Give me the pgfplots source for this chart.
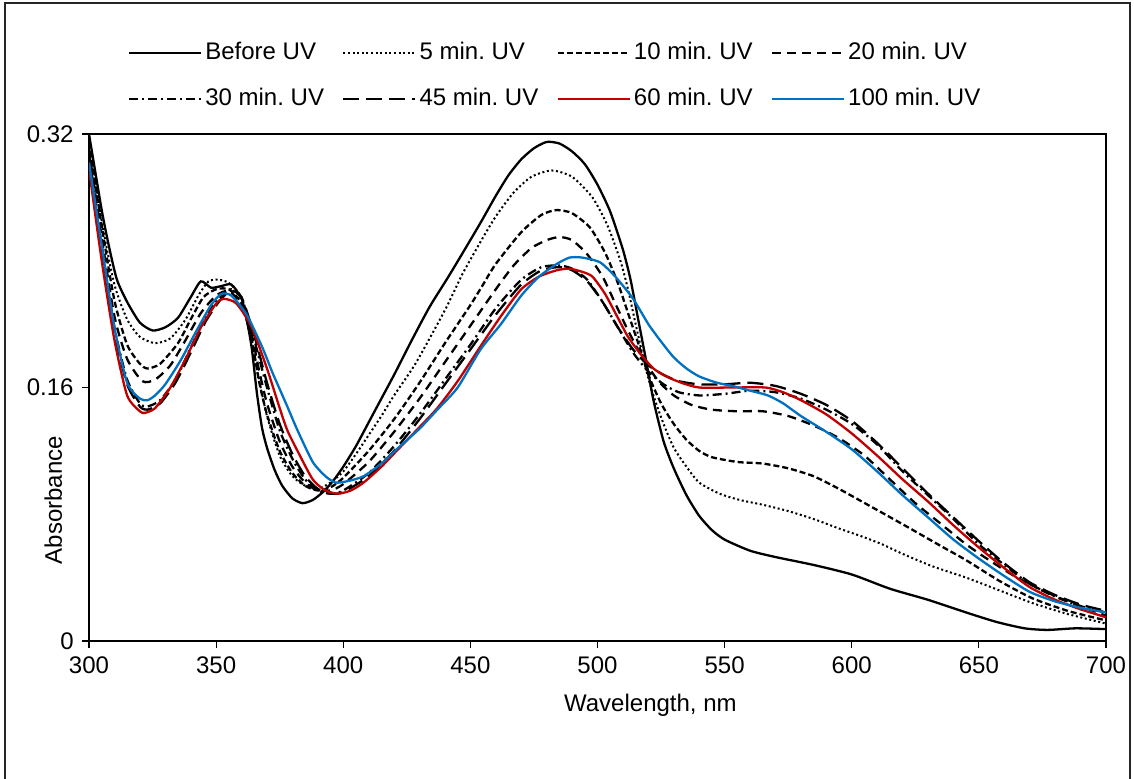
\documentclass[border=0pt,12pt]{standalone}
\usepackage{pgfplots}
\pgfplotsset{compat=1.18}
\usepackage{fontspec}
\setmainfont{Liberation Sans}
\definecolor{xred}{HTML}{C00000}
\definecolor{xblue}{HTML}{0070C0}
\begin{document}
\frenchspacing
\begin{tikzpicture}
\useasboundingbox (0,0) rectangle (567pt,389pt);
\begin{axis}[
  at={(44.5pt,68.5pt)}, anchor=south west,
  scale only axis, width=508.5pt, height=253.5pt,
  xmin=300, xmax=700, ymin=0, ymax=0.32,
  xtick={300,350,...,700}, ytick={0,0.16,0.32},
  yticklabels={0,0.16,0.32},
  tick align=outside, major tick length=3.5pt,
  xtick pos=lower, ytick pos=left,
  axis line style={line width=0.9pt},
  every tick/.style={black, line width=0.6pt},
  /pgf/number format/assume math mode=true,
  /pgf/number format/1000 sep={},
  xlabel={Wavelength, nm}, ylabel={Absorbance},
  xlabel style={at={(axis description cs:0.552,-0.127)}, anchor=center},
  ylabel style={at={(axis description cs:-0.035,0.278)}, anchor=center},
  legend columns=4,
  legend cell align=left,
  legend style={draw=none, fill=none, at={(0.038,1.189)}, anchor=north west,
    inner sep=0pt, row sep=8.5pt,
    nodes={inner xsep=1.5pt, inner ysep=2pt},
    /tikz/every even column/.append style={column sep=5pt}},
  legend image code/.code={\draw[#1] (0pt,0pt) -- (36pt,0pt);},
  every axis plot/.append style={smooth, tension=0.4, line width=1.15pt},
]
% Before UV
\addplot[black] coordinates {
(300,.320)(305,.272)(308,.248)(311,.228)(315,.214)(320,.201)(325,.196)(330,.198)(335,.204)(340,.217)(344,.227)(348,.223)(352,.224)(356,.225)(360,.216)(362,.203)(364,.185)(366,.157)(368,.135)(370,.122)(373,.108)(376,.098)(380,.090)(384,.087)(388,.089)(392,.094)(396,.101)(400,.110)(405,.123)(410,.138)(415,.153)(420,.168)(427,.190)(434,.211)(441,.229)(447,.245)(454,.264)(460,.281)(465,.294)(470,.304)(475,.311)(480,.315)(485,.314)(490,.309)(495,.301)(500,.288)(505,.271)(510,.247)(513,.228)(516,.203)(519,.178)(522,.152)(526,.126)(530,.109)(535,.092)(540,.079)(545,.070)(550,.064)(560,.057)(570,.053)(585,.048)(600,.042)(615,.033)(630,.026)(645,.018)(657,.012)(668,.008)(677,.007)(688,.008)(700,.0075)};
\addlegendentry{\makebox[62pt][l]{Before UV}}
% 5 min
\addplot[black, line width=1pt, dash pattern=on 1pt off 1.3pt] coordinates {
(300,.318)(305,.265)(310,.225)(315,.203)(320,.192)(326,.188)(332,.191)(338,.203)(343,.218)(347,.227)(351,.228)(355,.226)(360,.217)(363,.200)(366,.172)(370,.142)(375,.117)(380,.104)(385,.098)(390,.096)(395,.100)(400,.107)(405,.118)(410,.130)(415,.142)(420,.155)(428,.174)(435,.194)(441,.212)(447,.232)(454,.252)(460,.268)(467,.283)(474,.293)(482,.297)(490,.293)(498,.280)(504,.262)(509,.240)(512,.222)(515,.200)(519,.172)(522,.155)(526,.137)(530,.122)(535,.110)(540,.100)(548,.093)(556,.089)(565,.086)(575,.082)(585,.077)(595,.071)(604,.066)(612,.061)(620,.055)(632,.047)(645,.040)(658,.032)(671,.024)(685,.017)(700,.011)};
\addlegendentry{\makebox[62pt][l]{5 min. UV}}
% 10 min
\addplot[black, dash pattern=on 3pt off 1.5pt] coordinates {
(300,.315)(305,.262)(310,.215)(315,.187)(320,.175)(323,.172)(328,.175)(335,.188)(340,.203)(345,.217)(350,.222)(355,.222)(360,.213)(364,.190)(367,.163)(370,.143)(375,.120)(380,.106)(385,.098)(390,.095)(395,.097)(400,.103)(410,.120)(420,.140)(430,.163)(440,.188)(450,.212)(455,.225)(460,.238)(470,.258)(478,.269)(484,.272)(490,.270)(497,.261)(503,.245)(508,.226)(512,.207)(516,.188)(520,.168)(525,.150)(530,.137)(535,.127)(540,.120)(545,.116)(555,.113)(565,.112)(575,.109)(585,.104)(595,.096)(604,.088)(613,.080)(623,.071)(635,.060)(645,.051)(658,.038)(671,.027)(685,.019)(700,.013)};
\addlegendentry{\makebox[62pt][l]{10 min. UV}}
% 20 min
\addplot[black, dash pattern=on 4.5pt off 3pt] coordinates {
(300,.310)(305,.255)(310,.205)(315,.178)(321,.164)(326,.165)(332,.174)(338,.190)(344,.207)(350,.218)(355,.221)(360,.212)(364,.193)(367,.170)(370,.150)(375,.126)(380,.110)(385,.100)(390,.095)(395,.095)(400,.099)(410,.113)(420,.132)(430,.153)(440,.176)(450,.199)(460,.222)(467,.237)(474,.248)(480,.253)(485,.255)(490,.253)(496,.244)(502,.230)(507,.213)(512,.196)(518,.178)(524,.164)(530,.155)(537,.149)(545,.146)(555,.145)(565,.145)(575,.142)(585,.136)(595,.128)(605,.117)(615,.102)(625,.087)(635,.074)(645,.061)(655,.050)(665,.040)(675,.032)(685,.025)(700,.016)};
\addlegendentry{\makebox[62pt][l]{20 min. UV}}
% 30 min
\addplot[black, dash pattern=on 4.5pt off 2pt on 1pt off 2pt] coordinates {
(300,.308)(305,.250)(310,.198)(315,.165)(320,.150)(323,.148)(328,.152)(334,.165)(340,.185)(346,.205)(352,.218)(356,.222)(360,.216)(365,.190)(370,.160)(375,.133)(380,.115)(385,.102)(390,.095)(395,.093)(400,.095)(410,.106)(420,.123)(430,.143)(440,.165)(450,.187)(460,.210)(470,.228)(478,.236)(485,.237)(490,.235)(496,.228)(502,.214)(508,.198)(514,.182)(520,.170)(526,.162)(532,.157)(540,.155)(550,.156)(560,.158)(570,.157)(580,.153)(590,.146)(600,.137)(610,.124)(620,.107)(630,.092)(640,.077)(650,.061)(660,.048)(670,.036)(680,.028)(690,.022)(700,.018)};
\addlegendentry{\makebox[62pt][l]{30 min. UV}}
% 45 min
\addplot[black, dash pattern=on 8pt off 3.5pt] coordinates {
(300,.305)(305,.247)(310,.195)(315,.162)(320,.148)(323,.146)(328,.150)(334,.163)(340,.182)(346,.202)(352,.216)(356,.221)(360,.217)(365,.193)(370,.163)(375,.137)(380,.118)(385,.104)(390,.096)(395,.093)(400,.094)(410,.104)(420,.120)(430,.140)(440,.162)(450,.184)(460,.206)(470,.225)(478,.234)(485,.236)(490,.234)(496,.227)(502,.214)(508,.198)(514,.184)(520,.174)(526,.168)(532,.164)(540,.162)(550,.162)(560,.163)(570,.161)(580,.156)(590,.149)(600,.139)(610,.125)(620,.109)(630,.093)(640,.078)(650,.063)(660,.049)(670,.037)(680,.029)(690,.023)(700,.019)};
\addlegendentry{\makebox[62pt][l]{45 min. UV}}
% 60 min
\addplot[xred] coordinates {
(300,.298)(305,.240)(310,.190)(315,.155)(320,.145)(322,.144)(326,.147)(332,.160)(338,.178)(344,.198)(350,.213)(353,.216)(358,.213)(364,.198)(370,.172)(375,.147)(378,.133)(382,.120)(388,.102)(393,.095)(398,.093)(403,.095)(408,.100)(415,.110)(421,.120)(430,.135)(437,.147)(445,.164)(454,.186)(462,.205)(470,.222)(477,.230)(484,.234)(489,.235)(494,.233)(498,.230)(503,.219)(508,.204)(512,.192)(517,.181)(522,.172)(527,.167)(533,.163)(540,.160)(553,.160)(566,.160)(573,.157)(580,.152)(590,.143)(600,.131)(610,.117)(620,.102)(630,.088)(640,.073)(650,.059)(660,.046)(670,.034)(680,.026)(690,.020)(700,.015)};
\addlegendentry{\makebox[62pt][l]{60 min. UV}}
% 100 min
\addplot[xblue] coordinates {
(300,.302)(305,.250)(310,.198)(315,.163)(320,.153)(323,.152)(326,.155)(330,.162)(336,.177)(342,.195)(348,.212)(352,.219)(356,.218)(362,.206)(368,.186)(372,.170)(375,.159)(378,.148)(382,.133)(388,.113)(393,.104)(397,.100)(402,.101)(408,.104)(415,.112)(421,.121)(430,.134)(437,.146)(445,.160)(454,.184)(462,.200)(470,.218)(477,.230)(484,.238)(489,.242)(494,.242)(501,.239)(507,.230)(514,.216)(520,.200)(525,.189)(530,.179)(535,.172)(540,.167)(547,.163)(553,.161)(560,.158)(567,.155)(573,.150)(580,.142)(590,.132)(600,.121)(610,.107)(620,.092)(630,.078)(640,.064)(650,.052)(660,.041)(670,.031)(680,.025)(690,.021)(700,.018)};
\addlegendentry{\makebox[62pt][l]{100 min. UV}}
\end{axis}
\draw[line width=1pt, black!85] (2.5pt,-5pt) -- (2.5pt,387.5pt) -- (565pt,387.5pt) -- (565pt,-5pt);
\end{tikzpicture}
\end{document}
